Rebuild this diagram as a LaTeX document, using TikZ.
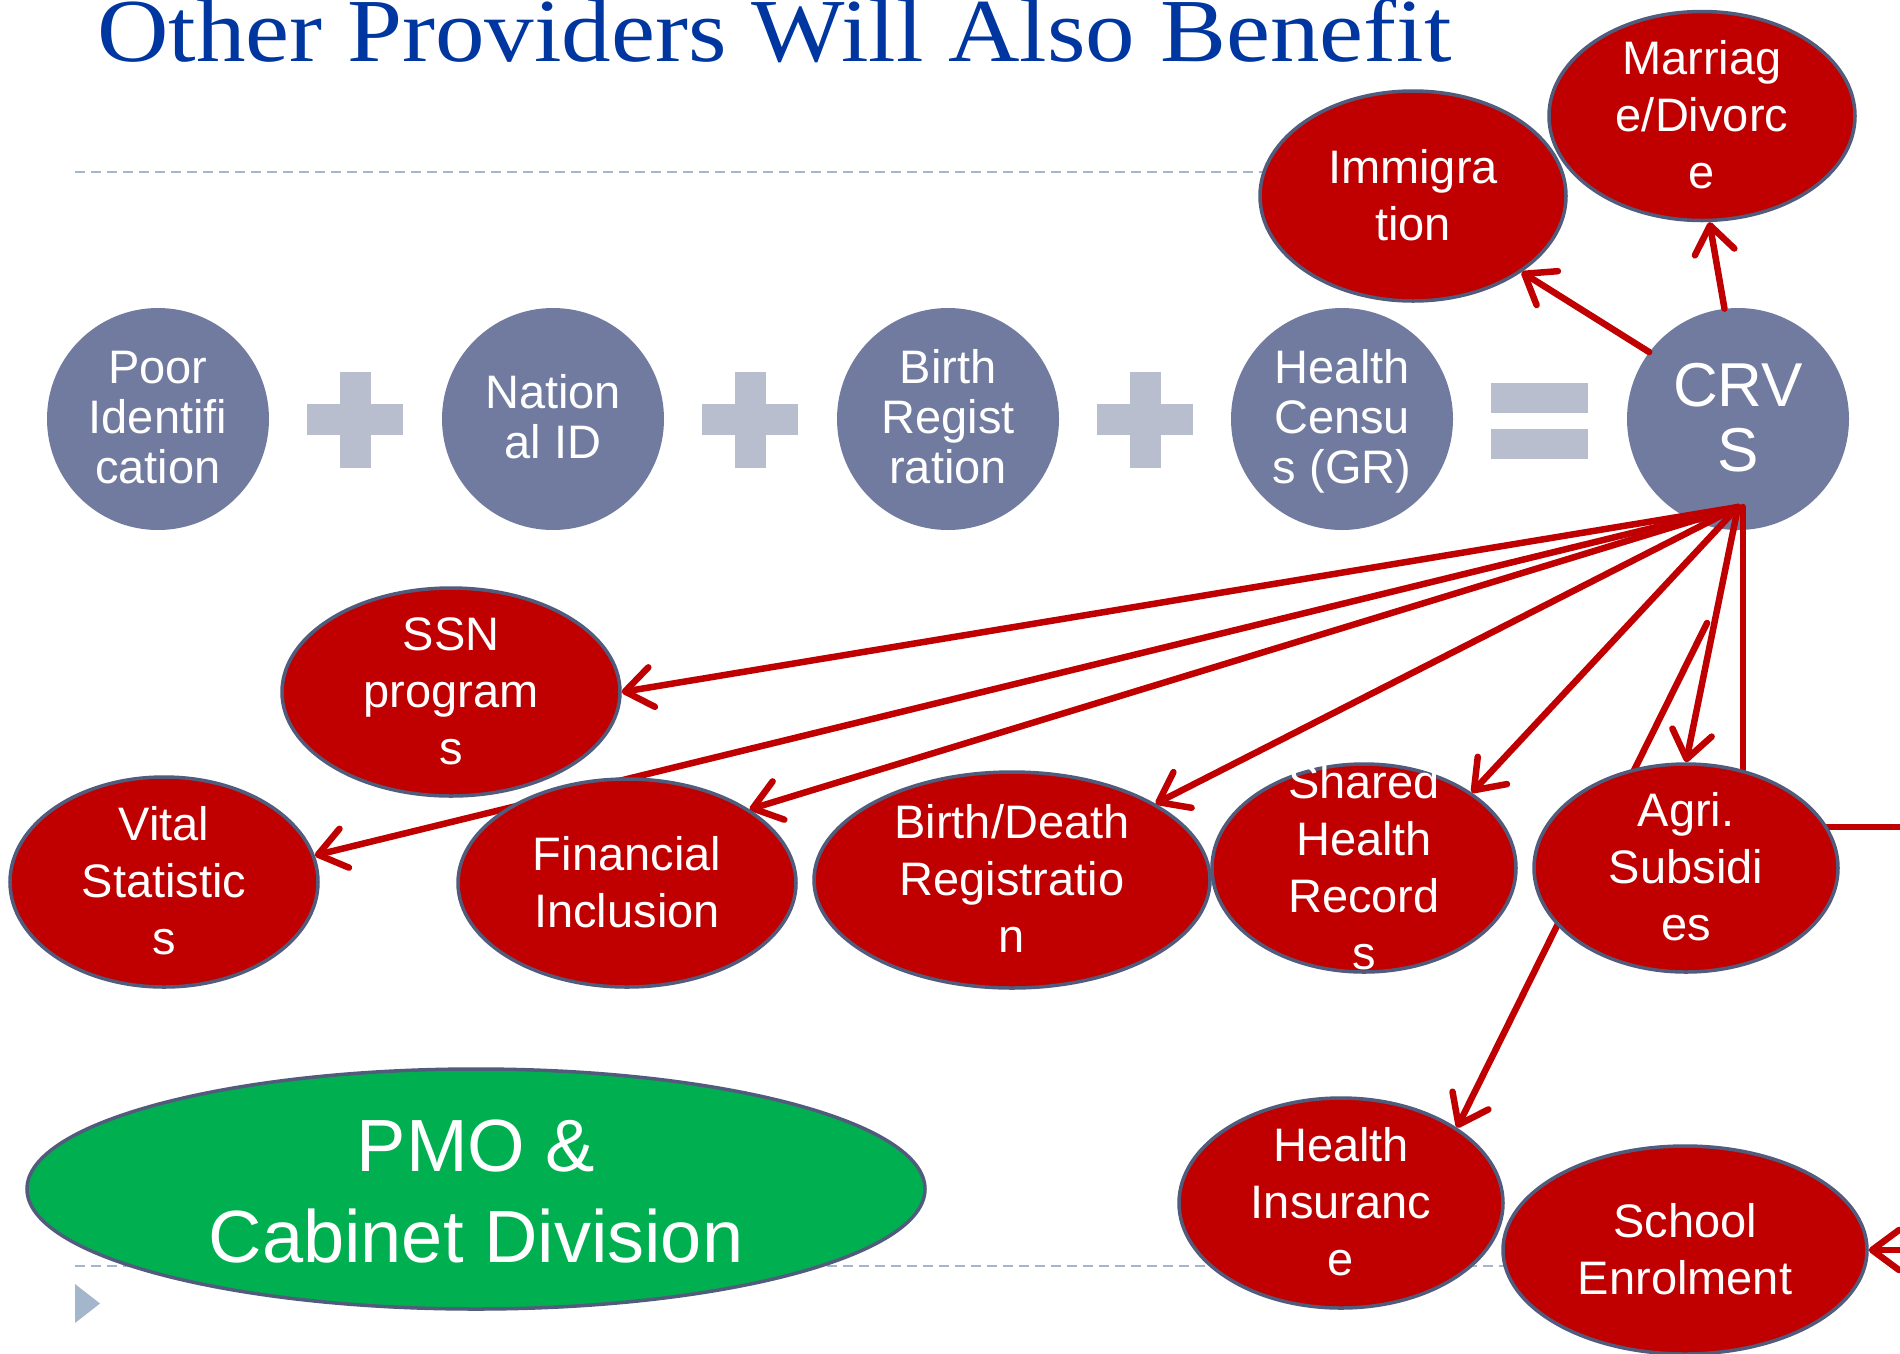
\documentclass[tikz,border=0pt]{standalone}
\usepackage{fontspec}
\setmainfont{Liberation Sans}
\newfontfamily\titlefont{Liberation Serif}
\usetikzlibrary{shapes.geometric,arrows.meta}
\pgfdeclarelayer{back}
\pgfdeclarelayer{mid}
\pgfsetlayers{back,mid,main}
\newcommand{\ovltext}[1]{\smash{\raisebox{-0.22em}{\begin{tabular}{@{}c@{}}#1\end{tabular}}}}
\tikzset{
  basecirc/.style={circle, fill=baseblue, minimum size=222pt, inner sep=0pt, text=white, font=\fontsize{47}{50}\selectfont},
  benefit/.style={ellipse, fill=benefitred, draw=rimblue, line width=3.5pt, inner sep=0pt, text=white, font=\fontsize{47}{57}\selectfont},
  feed/.style={draw=benefitred, line width=6.5pt, line cap=round, line join=round, -{Straight Barb[length=27pt,width=40pt,round]}},
  ruleline/.style={draw=dashgray, line width=2pt, dash pattern=on 10pt off 6pt}
}
\begin{document}
\begin{tikzpicture}[x=1pt,y=-1pt]
\definecolor{baseblue}{HTML}{717BA0}
\definecolor{signgray}{HTML}{B9BECE}
\definecolor{benefitred}{HTML}{C00000}
\definecolor{rimblue}{HTML}{515B7C}
\definecolor{pmogreen}{HTML}{00B050}
\definecolor{dashgray}{HTML}{A4B6CC}
\definecolor{titleblue}{HTML}{0036A0}
\useasboundingbox (0,0) rectangle (1900,1353);
\begin{pgfonlayer}{back}
\fill[white] (0,0) rectangle (1900,1353);
\draw[ruleline] (75,172) -- (1560,172);
\draw[ruleline] (75,1266) -- (1520,1266);
\fill[dashgray] (75,1284) -- (75,1323) -- (100,1303.5) -- cycle;
\node[basecirc] (poor) at (158,419) {\ovltext{Poor\\Identifi\\cation}};
\node[basecirc] (natid) at (553,419) {\ovltext{Nation\\al ID}};
\node[basecirc] (birthreg) at (948,419) {\ovltext{Birth\\Regist\\ration}};
\node[basecirc] (census) at (1342,419) {\ovltext{Health\\Censu\\s (GR)}};
\node[basecirc, font=\fontsize{62}{65}\selectfont] (crvs) at (1738,419) {\ovltext{CRV\\S}};
\foreach \px in {355,750,1145} {
  \fill[signgray] (\px-48,404) rectangle (\px+48,435);
  \fill[signgray] (\px-15.5,372) rectangle (\px+15.5,468);
}
\fill[signgray] (1491,383) rectangle (1588,413);
\fill[signgray] (1491,429) rectangle (1588,459);
\end{pgfonlayer}

\node[anchor=base west, inner sep=0pt, text=titleblue, font=\titlefont\fontsize{90}{90}\selectfont] (title) at (97,61) {\scalebox{1.1}[1]{Other Providers Will Also Benefit}};

\node[benefit, minimum width=306pt, minimum height=209pt] (marr) at (1702,116) {\ovltext{Marriag\\e/Divorc\\e}};
\node[benefit, minimum width=306pt, minimum height=210pt] (imm) at (1413,196) {\ovltext{Immigra\\tion}};
\node[benefit, minimum width=338pt, minimum height=208pt] (ssn) at (451,692) {\ovltext{SSN\\program\\s}};
\node[benefit, minimum width=308pt, minimum height=210pt] (vital) at (164,882) {\ovltext{Vital\\Statistic\\s}};
\node[benefit, minimum width=338pt, minimum height=208pt] (fin) at (627,883) {\ovltext{Financial\\Inclusion}};
\node[benefit, minimum width=396pt, minimum height=216pt] (bdr) at (1012,880) {\ovltext{Birth/Death\\Registratio\\n}};
\node[benefit, minimum width=304pt, minimum height=208pt] (shr) at (1364,868) {\ovltext{Shared\\Health\\Record\\s}};
\node[benefit, minimum width=304pt, minimum height=208pt] (agri) at (1686,868) {\ovltext{Agri.\\Subsidi\\es}};
\node[benefit, minimum width=324pt, minimum height=210pt] (hins) at (1341,1203) {\ovltext{Health\\Insuranc\\e}};
\node[benefit, minimum width=364pt, minimum height=208pt] (school) at (1685,1250) {\ovltext{School\\Enrolment}};
\node[benefit, fill=pmogreen, minimum width=898pt, minimum height=240pt, font=\fontsize{74}{91}\selectfont] (pmo) at (476,1189) {\ovltext{PMO \&\\Cabinet Division}};

\begin{pgfonlayer}{mid}
\coordinate (hub) at (1738,507);
\coordinate (hub2) at (1743,507);
\coordinate (split) at (1707,623);
\coordinate (bend) at (1935,827);
\draw[feed] (crvs.143) -- (imm.-35);
\draw[feed] (crvs.97) -- (marr.-86);
\draw[feed] (hub) -- (ssn.east);
\draw[feed] (hub) -- (vital.10);
\draw[feed] (hub) -- (fin.31);
\draw[feed] (hub) -- (bdr.28);
\draw[feed] (hub) -- (shr.35);
\draw[feed] (hub) -- (agri.north);
\draw[feed] (split) -- (hins.33);
\draw[feed] (hub2) |- (bend) |- (school.east);
\end{pgfonlayer}
\end{tikzpicture}
\end{document}
